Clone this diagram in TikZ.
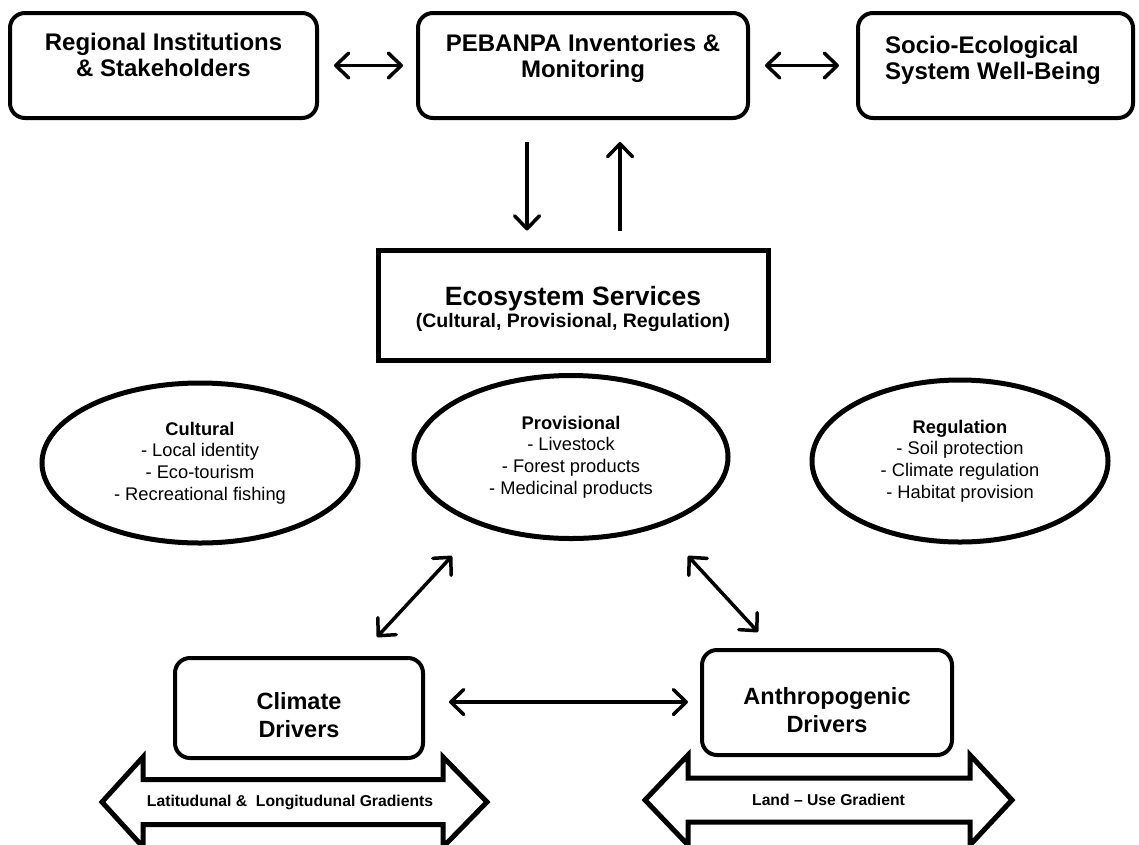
\documentclass[tikz,border=0pt]{standalone}
\usepackage{fontspec}
\setmainfont{Liberation Sans}
\usetikzlibrary{arrows.meta,shapes.geometric,calc}
\begin{document}
\begin{tikzpicture}[x=1pt,y=-1pt,
  tbox/.style={draw, line width=4pt, rounded corners=15pt, minimum width=#1, minimum height=105pt, inner sep=0pt},
  dbox/.style={draw, line width=4pt, rounded corners=15pt, minimum width=#1, minimum height=102pt, inner sep=0pt},
  ttext/.style={font=\bfseries\fontsize{24}{26}\selectfont, align=center, inner sep=0pt},
  dtext/.style={font=\bfseries\fontsize{23.5}{28}\selectfont, align=center, inner sep=0pt},
  ell/.style={draw, ellipse, line width=5pt, inner sep=0pt, align=center, font=\fontsize{18.3}{21.7}\selectfont},
  arr/.style={line width=3.5pt, line cap=round, {Straight Barb[length=13pt,width=25pt,line cap=round,line join=round]}-{Straight Barb[length=13pt,width=25pt,line cap=round,line join=round]}},
  sarr/.style={line width=3.5pt, -{Straight Barb[length=13pt,width=25pt,line cap=round,line join=round]}},
  blk/.style={draw, line width=5pt, line join=miter, fill=white},
  btext/.style={font=\bfseries\fontsize{15.7}{18}\selectfont, inner sep=0pt}]
\useasboundingbox (0,0) rectangle (1139,844);

% top row
\node[tbox=307pt] (reg) at (163.5,65.5) {};
\node[ttext] (regt) at (163.5,55) {Regional Institutions\\\& Stakeholders};
\node[tbox=330pt] (peb) at (583,65.5) {};
\node[ttext] (pebt) at (583,58) {PEBANPA Inventories \&\\Monitoring};
\node[tbox=275pt] (soc) at (995.5,65.5) {};
\node[ttext, align=left, anchor=west] (soct) at (885,60) {Socio-Ecological\\System Well-Being};

\draw[arr, shorten <=15pt, shorten >=13pt] (reg.east) -- (peb.west);
\draw[arr, shorten <=15pt, shorten >=17pt] (peb.east) -- (soc.west);

% ecosystem services
\node[draw, line width=5pt, minimum width=390pt, minimum height=110pt, inner sep=0pt] (eco) at (573,305) {};
\node[align=center, inner sep=0pt, font=\bfseries\fontsize{19.5}{22}\selectfont] (ecot) at (573,309)
  {{\fontsize{26.5}{26.5}\selectfont Ecosystem Services}\\(Cultural, Provisional, Regulation)};

\coordinate (dnx) at (527,0);
\coordinate (upx) at (620,0);
\draw[sarr, shorten <=22pt, shorten >=17pt] (peb.south -| dnx) -- (eco.north -| dnx);
\draw[sarr, shorten <=17pt, shorten >=22pt] (eco.north -| upx) -- (peb.south -| upx);

% ellipses
\node[ell, minimum width=316pt, minimum height=160pt] (cul) at (200,463)
  {\textbf{Cultural}\\- Local identity\\- Eco-tourism\\- Recreational fishing};
\node[ell, minimum width=314pt, minimum height=163pt] (pro) at (571,457)
  {\textbf{Provisional}\\- Livestock\\- Forest products\\- Medicinal products};
\node[ell, minimum width=296pt, minimum height=162pt] (reg2) at (960,461)
  {\textbf{Regulation}\\- Soil protection\\- Climate regulation\\- Habitat provision};

% drivers
\node[dbox=248pt, minimum height=100pt] (cli) at (299,708) {};
\node[dtext] (clit) at (299,715) {Climate\\Drivers};
\node[dbox=250pt, minimum height=105pt] (ant) at (827,702.5) {};
\node[dtext] (antt) at (827,710) {Anthropogenic\\Drivers};

\draw[arr] ($(cli.north)+(78,-19)$) -- ($(pro.south)+(-119,15)$);
\draw[arr] ($(pro.south)+(117,15)$) -- ($(ant.north)+(-69,-16)$);

\coordinate (hy) at (0,702);
\draw[arr, shorten <=24pt, shorten >=12pt] (cli.east |- hy) -- (ant.west |- hy);

% gradient block arrows
\draw[blk] (102,802) -- (143,757) -- (143,779.5) -- (443,779.5) -- (443,757) -- (487,802)
  -- (443,847) -- (443,824.5) -- (143,824.5) -- (143,847) -- cycle;
\node[btext] (lat) at (290,802) {Latitudunal \&~ Longitudunal Gradients};
\draw[blk] (645,800) -- (688,755) -- (688,778) -- (970,778) -- (970,755) -- (1012,800)
  -- (970,845) -- (970,822) -- (688,822) -- (688,845) -- cycle;
\node[btext] (land) at (828.5,800) {Land – Use Gradient};
\end{tikzpicture}
\end{document}
